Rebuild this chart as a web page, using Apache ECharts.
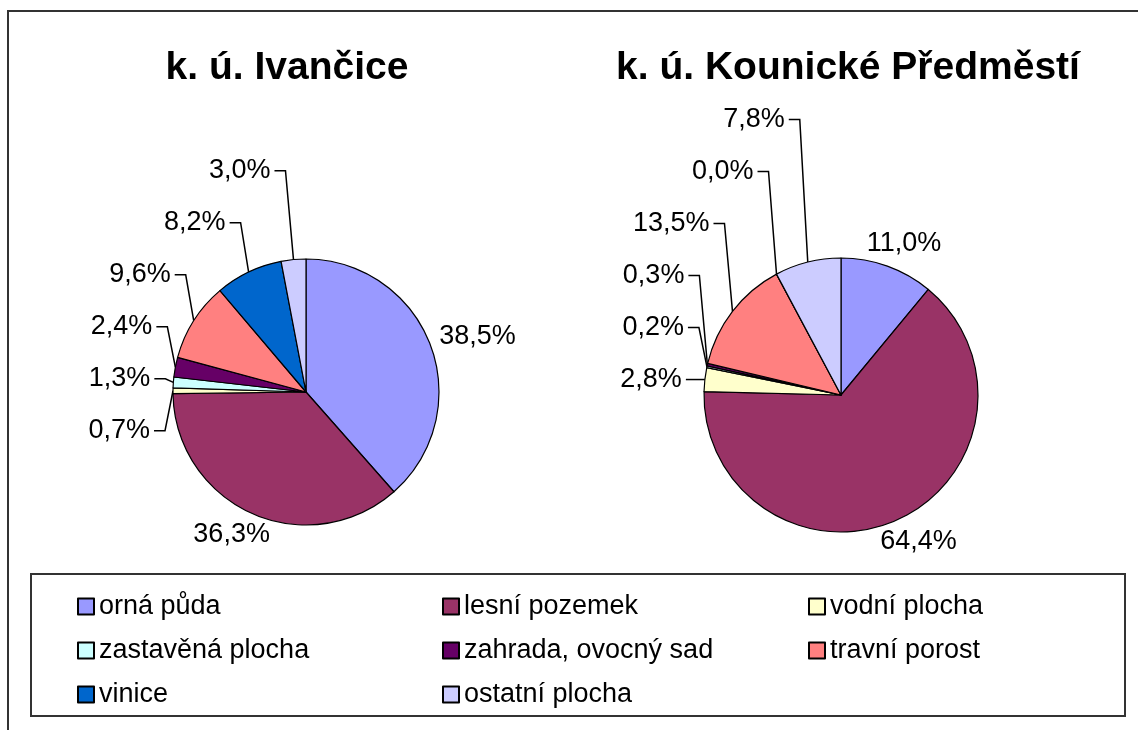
<!DOCTYPE html>
<html>
<head>
<meta charset="utf-8">
<script src="https://cdn.jsdelivr.net/npm/echarts@6/dist/echarts.min.js"></script>
<style>
html, body { margin: 0; padding: 0; background: #fff; }
#chart { width: 1138px; height: 730px; }
</style>
</head>
<body>
<div id="chart"></div>
<script>
// druhy pozemků
const categories = ['orná půda', 'lesní pozemek', 'vodní plocha', 'zastavěná plocha',
    'zahrada, ovocný sad', 'travní porost', 'vinice', 'ostatní plocha'];
const colors = ['#9999FF', '#993366', '#FFFFCC', '#CCFFFF', '#660066', '#FF8080', '#0066CC', '#CCCCFF'];

// podíly v %
const ivancice = [38.5, 36.3, 0.7, 1.3, 2.4, 9.6, 8.2, 3.0];
const kounicke = [11.0, 64.4, 2.8, 0.2, 0.3, 13.5, 0.0, 7.8];

const titles = ['k. ú. Ivančice', 'k. ú. Kounické Předměstí'];

// legenda ve třech sloupcích
const legendCols = [
    ['orná půda', 'zastavěná plocha', 'vinice'],
    ['lesní pozemek', 'zahrada, ovocný sad', 'ostatní plocha'],
    ['vodní plocha', 'travní porost']
];

const font = 'Liberation Sans, Arial, sans-serif';

// rozmístění koláčů; drop = posun spodního popisku levého sloupce
const pies = [
    { values: ivancice, center: [306, 392], radius: 133, drop: 40 },
    { values: kounicke, center: [841, 395], radius: 137, drop: 0 }
];

/**
 * Popisky jako v Excelu: velké/pravé výseče mají popisek přímo u okraje,
 * malé výseče vlevo mají popisky naskládané nad sebou s vodicí čarou.
 */
function labelPlan(pie) {
    const total = pie.values.reduce((a, b) => a + b, 0);
    const [cx, cy] = pie.center;
    let acc = 0;
    const items = pie.values.map(v => {
        const a = (acc + v / 2) / total * Math.PI * 2;
        acc += v;
        const dx = Math.sin(a), dy = -Math.cos(a);
        return {
            dx, dy,
            edge: [cx + pie.radius * dx, cy + pie.radius * dy],
            stacked: dx < 0 && v < 20
        };
    });
    let prevY = null;
    items.forEach(it => {
        if (!it.stacked) return;
        let y = it.edge[1];
        y = prevY === null ? y + pie.drop : Math.min(y, prevY - 52);
        it.y = y;
        it.cornerX = it.edge[0] - 8;
        prevY = y;
    });
    return items;
}

const plans = pies.map(labelPlan);

function labelLayout(params) {
    const it = plans[params.seriesIndex][params.dataIndex];
    if (it.stacked) {
        return {
            x: it.cornerX - 15,
            y: it.y,
            align: 'right',
            verticalAlign: 'middle',
            labelLinePoints: [it.edge, [it.cornerX, it.y], [it.cornerX - 11, it.y]]
        };
    }
    const w = params.labelRect.width, h = params.labelRect.height;
    return {
        x: it.edge[0] + it.dx * 12 + it.dx * w / 2,
        y: it.edge[1] + it.dy * 10 + it.dy * h / 2,
        align: 'center',
        verticalAlign: 'middle'
    };
}

function pieSeries(pie, idx) {
    return {
        type: 'pie',
        center: pie.center,
        radius: pie.radius,
        startAngle: 90,
        clockwise: true,
        animation: false,
        silent: true,
        avoidLabelOverlap: false,
        itemStyle: { borderColor: '#000', borderWidth: 1.2 },
        label: {
            show: true,
            position: 'outside',
            color: '#000',
            fontFamily: font,
            fontSize: 27,
            formatter: p => p.value.toFixed(1).replace('.', ',') + '%'
        },
        labelLine: {
            show: true,
            smooth: false,
            lineStyle: { color: '#000', width: 1.5 }
        },
        labelLayout: labelLayout,
        data: categories.map((name, i) => ({
            name: name,
            value: pie.values[i],
            labelLine: { show: plans[idx][i].stacked }
        }))
    };
}

const chart = echarts.init(document.getElementById('chart'));

const option = {
    color: colors,
    title: titles.map((t, i) => ({
        text: t,
        left: [282, 843][i],
        top: 44,
        textAlign: 'center',
        textStyle: { fontFamily: font, fontSize: 39, fontWeight: 'bold', color: '#000' }
    })),
    legend: legendCols.map((col, i) => ({
        data: col,
        orient: 'vertical',
        left: [72, 437, 803][i],
        top: 588,
        icon: 'rect',
        itemWidth: 16,
        itemHeight: 16,
        itemGap: 17,
        selectedMode: false,
        textStyle: { fontFamily: font, fontSize: 27, color: '#000', lineHeight: 26 }
    })),
    graphic: [
        {
            type: 'rect', silent: true,
            shape: { x: 8, y: 11, width: 1140, height: 730 },
            style: { fill: 'none', stroke: '#333', lineWidth: 2 }
        },
        {
            type: 'rect', silent: true,
            shape: { x: 31, y: 574, width: 1094, height: 142 },
            style: { fill: 'none', stroke: '#333', lineWidth: 2 }
        }
    ],
    series: pies.map(pieSeries)
};

chart.setOption(option);
</script>
</body>
</html>
